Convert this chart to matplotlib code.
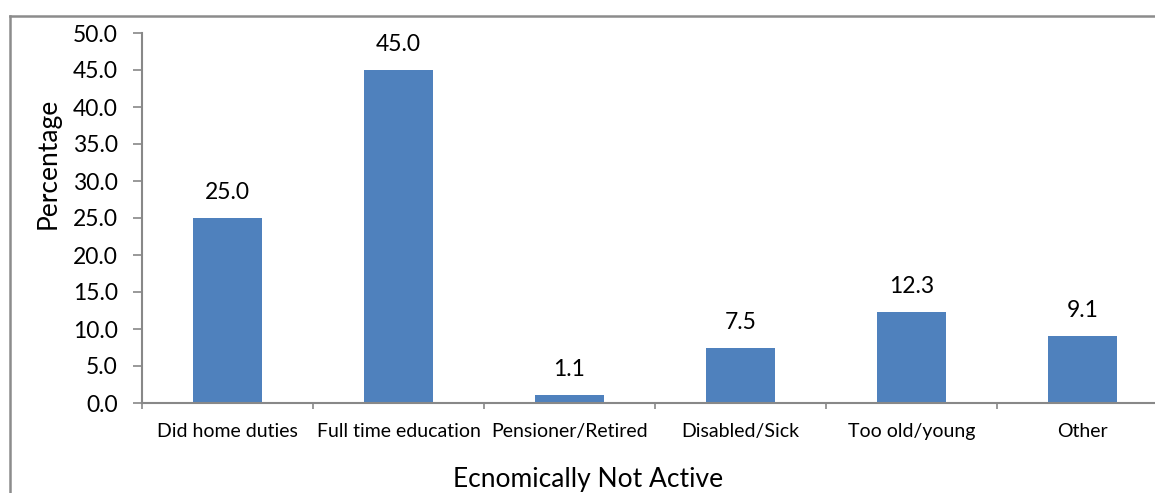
import matplotlib
matplotlib.use("Agg")
import matplotlib.pyplot as plt
from matplotlib.lines import Line2D
import numpy as np

# categories and percentages
categories = ["Did home duties", "Full time education", "Pensioner/Retired",
              "Disabled/Sick", "Too old/young", "Other"]
values = [25.0, 45.0, 1.1, 7.5, 12.3, 9.1]
y_ticks = [0, 5, 10, 15, 20, 25, 30, 35, 40, 45, 50]

plt.rcParams['font.family'] = ['Lato', 'DejaVu Sans']

W, H = 1155, 493
fig = plt.figure(figsize=(W / 100, H / 100), dpi=100)

# axes box in pixels: left 142, right 1168 (runs past the edge), top 33, bottom 403
ax = fig.add_axes([142 / W, (H - 403) / H, (1168 - 142) / W, (403 - 33) / H])

x = np.arange(len(categories))
ax.bar(x, values, width=0.4, color='#4F81BD', zorder=2)

for xi, v in zip(x, values):
    ax.annotate(f"{v:.1f}", (xi, v), xytext=(0, 13.5), textcoords='offset points',
                ha='center', va='baseline', fontsize=16.5, color='black')

ax.set_xlim(-0.5, len(categories) - 0.5)
ax.set_ylim(0, 50)
ax.set_yticks(y_ticks)
ax.set_yticklabels([f"{t:.1f}" for t in y_ticks], fontsize=16.5)

ax.set_xticks(x)
ax.set_xticklabels(categories, fontsize=14)
ax.set_xticks(np.arange(len(categories) + 1) - 0.5, minor=True)
ax.tick_params(axis='x', which='major', length=0, pad=14.5)
ax.tick_params(axis='x', which='minor', length=4.5, width=1.2, color='#888888')
ax.tick_params(axis='y', length=6.5, width=1.2, color='#888888', pad=11)

for s in ['top', 'right']:
    ax.spines[s].set_visible(False)
for s in ['left', 'bottom']:
    ax.spines[s].set_color('#888888')
    ax.spines[s].set_linewidth(1.5)

fig.text(48 / W, 1 - 163 / H, "Percentage", rotation=90, ha='center', va='center',
         fontsize=19)
fig.text(588 / W, 1 - 479 / H, "Ecnomically Not Active", ha='center', va='center',
         fontsize=19)

# outer chart frame (left and top edges)
fig.add_artist(Line2D([10 / W, 10 / W], [0, 1 - 16 / H], transform=fig.transFigure,
                      color='#8c8c8c', linewidth=1.8))
fig.add_artist(Line2D([10 / W, 1], [1 - 16 / H, 1 - 16 / H], transform=fig.transFigure,
                      color='#8c8c8c', linewidth=1.8))

fig.savefig("out.png", dpi=100)
